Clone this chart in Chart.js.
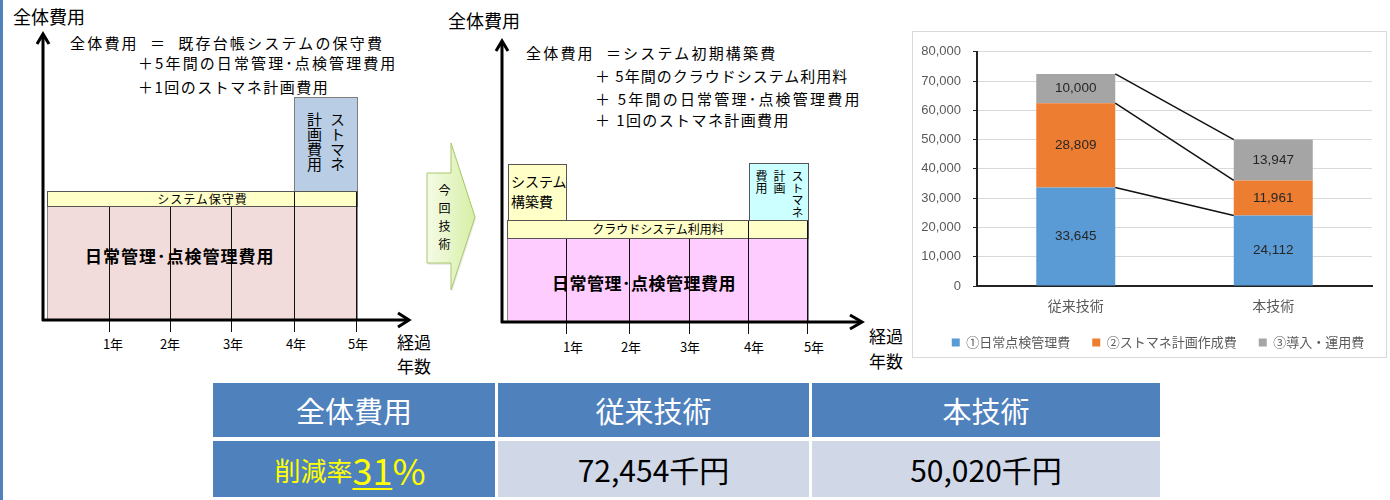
<!DOCTYPE html>
<html><head><meta charset="utf-8">
<script src="https://cdn.jsdelivr.net/npm/chart.js@4.4.1/dist/chart.umd.min.js"></script>
<style>
body{margin:0;width:1390px;height:500px;background:#fff;position:relative;overflow:hidden;font-family:"Noto Sans CJK JP","Noto Sans",sans-serif;color:#000}
.a{position:absolute;white-space:nowrap;line-height:1}
.box{position:absolute;box-sizing:border-box}
.vl{position:absolute;width:0;border-left:1.5px solid #111}
.yr{position:absolute;font-size:13px;line-height:1;transform:translateX(-50%);white-space:nowrap}
.vt{writing-mode:vertical-rl;text-orientation:upright;position:absolute;white-space:nowrap}
.cell{position:absolute;box-sizing:border-box;display:flex;align-items:center;justify-content:center;white-space:nowrap}
</style></head>
<body>
<div class="box" style="left:0;top:0;width:3px;height:500px;background:#4f81bd"></div>

<!-- left diagram -->
<div class="a" style="left:13px;top:7px;font-size:18px">全体費用</div>
<div class="a" style="left:70px;top:35px;font-size:15px;letter-spacing:2.2px">全体費用&nbsp;&nbsp;＝&nbsp;&nbsp;既存台帳システムの保守費</div>
<div class="a" style="left:138px;top:55px;font-size:15px;letter-spacing:2.1px">＋5年間の日常管理･点検管理費用</div>
<div class="a" style="left:138px;top:79px;font-size:15px;letter-spacing:1.5px">＋1回のストマネ計画費用</div>

<div class="box" style="left:294px;top:97px;width:64px;height:95px;background:#b9cde5;border:1px solid #7f7f7f"></div>
<div class="vt" style="left:303px;top:112px;font-size:15px;line-height:23px">ストマネ<br>計画費用</div>
<div class="box" style="left:47px;top:205px;width:311px;height:116px;background:#f2dcdb;border:1px solid #8a8a8a"></div>
<div class="box" style="left:47px;top:191px;width:311px;height:16px;background:#ffffc8;border:1px solid #555"></div>
<div class="a" style="left:47px;width:311px;top:193px;font-size:12px;text-align:center;letter-spacing:1px">システム保守費</div>
<div class="vl" style="left:109px;top:207px;height:125px"></div>
<div class="vl" style="left:170px;top:207px;height:125px"></div>
<div class="vl" style="left:231px;top:207px;height:125px"></div>
<div class="vl" style="left:294px;top:192px;height:140px"></div>
<div class="vl" style="left:356px;top:192px;height:140px"></div>
<div class="a" style="left:85px;top:247px;font-size:17px;font-weight:bold;letter-spacing:1px">日常管理･点検管理費用</div>
<div class="yr" style="left:113px;top:337px">1年</div>
<div class="yr" style="left:170px;top:337px">2年</div>
<div class="yr" style="left:233px;top:337px">3年</div>
<div class="yr" style="left:296px;top:337px">4年</div>
<div class="yr" style="left:358px;top:337px">5年</div>
<div class="a" style="left:397px;top:333px;font-size:17px">経過</div>
<div class="a" style="left:397px;top:357px;font-size:17px">年数</div>

<!-- middle diagram -->
<div class="a" style="left:448px;top:11px;font-size:18px">全体費用</div>
<div class="a" style="left:526px;top:45px;font-size:15px;letter-spacing:2.2px">全体費用&nbsp;&nbsp;＝システム初期構築費</div>
<div class="a" style="left:595px;top:68px;font-size:15px;letter-spacing:1px">＋ 5年間のクラウドシステム利用料</div>
<div class="a" style="left:595px;top:91px;font-size:15px;letter-spacing:2.2px">＋ 5年間の日常管理･点検管理費用</div>
<div class="a" style="left:595px;top:112px;font-size:15px;letter-spacing:1.4px">＋ 1回のストマネ計画費用</div>

<div class="box" style="left:508px;top:164px;width:59px;height:57px;background:#ffffc8;border:1px solid #555"></div>
<div class="a" style="left:511px;top:174px;font-size:14px">システム</div>
<div class="a" style="left:511px;top:194px;font-size:14px">構築費</div>
<div class="box" style="left:749px;top:163px;width:60px;height:58px;background:#ccffff;border:1px solid #555"></div>
<div class="vt" style="left:752px;top:170px;font-size:12px;line-height:18px">ストマネ<br>計画<br>費用</div>
<div class="box" style="left:507px;top:238px;width:302px;height:85px;background:#ffccff;border:1px solid #8a8a8a"></div>
<div class="box" style="left:507px;top:220px;width:302px;height:19px;background:#ffffc8;border:1px solid #555"></div>
<div class="a" style="left:507px;width:302px;top:223px;font-size:12px;text-align:center">クラウドシステム利用料</div>
<div class="vl" style="left:566px;top:239px;height:95px"></div>
<div class="vl" style="left:629px;top:239px;height:95px"></div>
<div class="vl" style="left:689px;top:239px;height:95px"></div>
<div class="vl" style="left:748px;top:221px;height:113px"></div>
<div class="vl" style="left:807px;top:221px;height:113px"></div>
<div class="a" style="left:552px;top:274px;font-size:17px;font-weight:bold;letter-spacing:0.5px">日常管理･点検管理費用</div>
<div class="yr" style="left:573px;top:340px">1年</div>
<div class="yr" style="left:631px;top:340px">2年</div>
<div class="yr" style="left:690px;top:340px">3年</div>
<div class="yr" style="left:754px;top:340px">4年</div>
<div class="yr" style="left:814px;top:340px">5年</div>
<div class="a" style="left:869px;top:327px;font-size:17px">経過</div>
<div class="a" style="left:869px;top:352px;font-size:17px">年数</div>

<svg class="box" style="left:0;top:0" width="1390" height="500">
<defs>
<linearGradient id="g" x1="0" x2="1" y1="0" y2="0"><stop offset="0" stop-color="#f5fbe6"/><stop offset="1" stop-color="#d6efa6"/></linearGradient>
</defs>
<g fill="none" stroke="#000" stroke-width="3">
<line x1="43" y1="35" x2="43" y2="321"/>
<line x1="42" y1="320" x2="408" y2="320"/>
<polyline points="37,44 43,34 49,44"/>
<polyline points="398,313 409,320 398,327"/>
<line x1="502" y1="42" x2="502" y2="323"/>
<line x1="501" y1="322" x2="861" y2="322"/>
<polyline points="496,51 502,41 508,51"/>
<polyline points="850,315 862,322 850,329"/>
</g>
<polygon points="428,175 452,175 452,145 476,219 452,292 452,265 428,265" fill="#d8d8d8" opacity="0.5"/>
<polygon points="427,173 451,173 451,143 475,217 451,290 451,263 427,263" fill="url(#g)" stroke="#a9c86c" stroke-width="1"/>
</svg>
<div class="vt" style="left:436px;top:184px;font-size:12px;letter-spacing:6px">今回技術</div>

<!-- chart -->
<div class="box" style="left:912px;top:31px;width:475px;height:327px;border:1px solid #d9d9d9"></div>
<div style="position:absolute;left:913px;top:32px;width:486px;height:327px"><canvas id="c" width="486" height="327"></canvas></div>

<!-- table -->
<div id="tbl"></div>

<script>
const categories = ['従来技術', '本技術'];
const seriesNames = ['①日常点検管理費', '②ストマネ計画作成費', '③導入・運用費'];
const dailyCost = [33645, 24112];
const planCost = [28809, 11961];
const opsCost = [10000, 13947];
const seriesColors = ['#5b9bd5', '#ed7d31', '#a5a5a5'];
const yMin = 0, yMax = 80000, yStep = 10000;
const tableHeader = ['全体費用', '従来技術', '本技術'];
const unit = '千円';

const fmt = v => v.toLocaleString('en-US');
const totals = categories.map((_, i) => dailyCost[i] + planCost[i] + opsCost[i]);
const rate = Math.round((1 - totals[1] / totals[0]) * 100);

// table
const T = document.getElementById('tbl');
const cols = [[213, 495], [498, 809], [812, 1160]];
const rows = [[383, 437], [441, 497]];
function cell(c, r, bg, html, style) {
  const d = document.createElement('div');
  d.className = 'cell';
  d.style.cssText = `left:${cols[c][0]}px;top:${rows[r][0]}px;width:${cols[c][1]-cols[c][0]}px;height:${rows[r][1]-rows[r][0]}px;background:${bg};${style||''}`;
  d.innerHTML = html;
  T.appendChild(d);
}
tableHeader.forEach((t, i) => cell(i, 0, '#4f81bd', t, 'color:#fff;font-size:29px;'));
cell(0, 1, '#4f81bd', `<span style="font-size:26px">削減率</span><span style="font-size:36px;text-decoration:underline;text-decoration-thickness:2px;text-underline-offset:3px">${rate}</span><span style="font-size:36px">%</span>`, 'color:#ffff00;padding-right:8px;');
cell(1, 1, '#d0d8e8', fmt(totals[0]) + unit, 'color:#000;font-size:30px;');
cell(2, 1, '#d0d8e8', fmt(totals[1]) + unit, 'color:#000;font-size:30px;');

// chart
Chart.defaults.font.family = '"Noto Sans CJK JP", sans-serif';
const segLabels = {
  id: 'segLabels',
  afterDatasetsDraw(chart) {
    const ctx = chart.ctx; ctx.save();
    ctx.font = '13.5px "Liberation Sans", Arial, sans-serif';
    ctx.fillStyle = '#262626'; ctx.textAlign = 'center'; ctx.textBaseline = 'middle';
    chart.data.datasets.forEach((ds, i) => {
      chart.getDatasetMeta(i).data.forEach((bar, j) => {
        ctx.fillText(fmt(ds.data[j]), bar.x, (bar.y + bar.base) / 2);
      });
    });
    ctx.restore();
  }
};
const connectors = {
  id: 'connectors',
  afterDatasetsDraw(chart) {
    const ctx = chart.ctx; ctx.save();
    ctx.strokeStyle = '#111'; ctx.lineWidth = 1.5;
    chart.data.datasets.forEach((ds, i) => {
      const m = chart.getDatasetMeta(i).data;
      const a = m[0], b = m[1];
      ctx.beginPath();
      ctx.moveTo(a.x + a.width / 2, a.y);
      ctx.lineTo(b.x - b.width / 2, b.y);
      ctx.stroke();
    });
    ctx.restore();
  }
};
new Chart(document.getElementById('c'), {
  type: 'bar',
  data: {
    labels: categories,
    datasets: [dailyCost, planCost, opsCost].map((d, i) => ({
      label: seriesNames[i], data: d, backgroundColor: seriesColors[i],
      barPercentage: 0.4, categoryPercentage: 1.0, borderWidth: 0
    }))
  },
  options: {
    responsive: false, animation: false, devicePixelRatio: 1,
    layout: { padding: { left: 4, right: 0, top: 15, bottom: 0 } },
    plugins: {
      legend: {
        position: 'bottom', align: 'center',
        labels: { boxWidth: 8, boxHeight: 8, padding: 22, color: '#595959', font: { size: 13 } }
      },
      tooltip: { enabled: false }
    },
    scales: {
      x: {
        stacked: true,
        grid: { display: false, drawTicks: false, tickLength: 0 },
        border: { display: true, color: '#222', width: 2 },
        ticks: { color: '#595959', font: { size: 14, lineHeight: 1 }, padding: 13 },
        afterFit: s => { s.height = 28; }
      },
      y: {
        stacked: true, min: yMin, max: yMax,
        grid: { color: '#d9d9d9', lineWidth: 1, drawTicks: true, tickLength: 4, tickColor: '#222' },
        border: { display: true, color: '#222', width: 2 },
        ticks: { stepSize: yStep, color: '#595959', padding: 12, font: { size: 13, family: '"Liberation Sans", Arial, sans-serif' }, callback: v => fmt(v) },
        afterFit: s => { s.width = 60; }
      },
      yRight: {
        type: 'linear', position: 'right', display: true,
        grid: { display: false, drawOnChartArea: false, drawTicks: false },
        border: { display: false },
        ticks: { display: false },
        afterFit: s => { s.width = 27; }
      }
    }
  },
  plugins: [connectors, segLabels]
});
</script>
</body></html>
